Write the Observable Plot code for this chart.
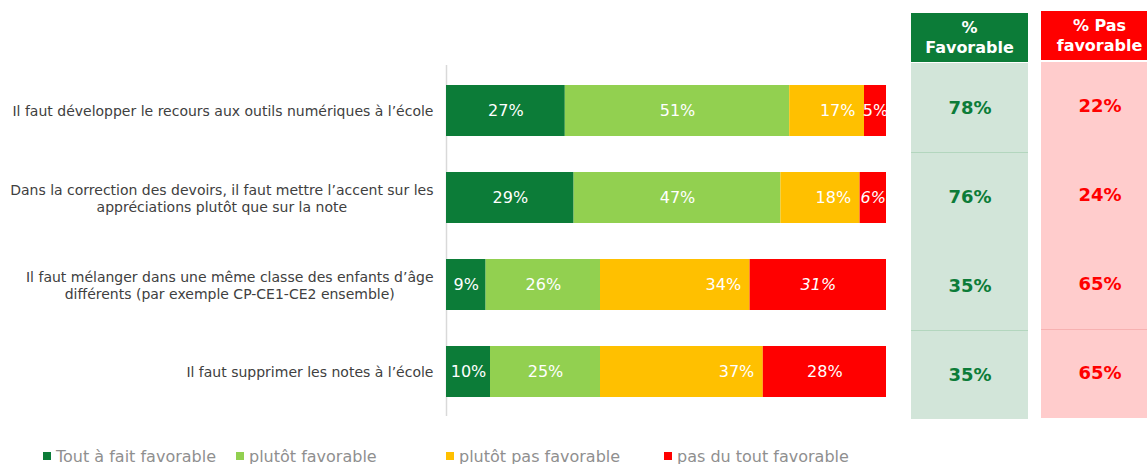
<!DOCTYPE html>
<html><head><meta charset="utf-8">
<script src="https://cdn.jsdelivr.net/npm/d3@7"></script>
<script src="https://cdn.jsdelivr.net/npm/@observablehq/plot@0.6"></script>
<style>
body{margin:0;background:#fff;font-family:"DejaVu Sans",Verdana,sans-serif;}
#wrap{position:relative;width:1147px;height:464px;overflow:hidden;background:#fff;}
#bars{position:absolute;left:0;top:0;width:900px;}
#table{position:absolute;left:900px;top:0;width:260px;}
#wrap svg{max-width:none !important;}
.hdr{position:absolute;width:117px;height:49px;color:#fff;font-weight:bold;font-size:16px;line-height:19.5px;text-align:center;display:flex;align-items:center;justify-content:center;}
.leg{position:absolute;top:447px;display:flex;align-items:center;font-size:16px;color:#8f8f8f;white-space:nowrap;height:18px;}
.sw{width:8px;height:8px;margin-right:5px;}
</style>
</head><body>
<div id="wrap">
  <div id="bars"></div>
  <div id="table"></div>
</div>
<script>
const questions = [
  "Il faut développer le recours aux outils numériques à l’école",
  "Dans la correction des devoirs, il faut mettre l’accent sur les\nappréciations plutôt que sur la note",
  "Il faut mélanger dans une même classe des enfants d’âge\ndifférents (par exemple CP-CE1-CE2 ensemble)",
  "Il faut supprimer les notes à l’école"
];
const categories = ["Tout à fait favorable", "plutôt favorable", "plutôt pas favorable", "pas du tout favorable"];
const toutAFait = [27, 29, 9, 10];
const plutot = [51, 47, 26, 25];
const plutotPas = [17, 18, 34, 37];
const pasDuTout = [5, 6, 31, 28];
const favorable = [78, 76, 35, 35];
const pasFavorable = [22, 24, 65, 65];
const columns = ["% Favorable", "% Pas favorable"];

const colors = ["#0c7c38", "#92d050", "#ffc000", "#ff0000"];
const series = [toutAFait, plutot, plutotPas, pasDuTout];
const rows = [];
questions.forEach((q, i) => categories.forEach((c, j) => rows.push({question: q, category: c, value: series[j][i]})));

const italicRed = new Set([questions[1], questions[2]]);
const font = "DejaVu Sans, Verdana, sans-serif";

const bars = Plot.plot({
  width: 900, height: 430,
  marginLeft: 446, marginRight: 14, marginTop: 65, marginBottom: 14,
  style: {fontFamily: font, background: "transparent", maxWidth: "none"},
  x: {domain: [0, 100], axis: null},
  y: {domain: questions, paddingInner: 0.415, paddingOuter: 0.22, axis: null},
  color: {domain: categories, range: colors},
  marks: [
    Plot.ruleX([0], {stroke: "#d9d9d9", strokeWidth: 1.5}),
    Plot.barX(rows, Plot.stackX({x: "value", y: "question", fill: "category"})),
    Plot.axisY({tickSize: 0, tickPadding: 13, fontSize: 14, fill: "#404040", lineHeight: 1.22, label: null, ariaLabel: "question-labels"}),
    Plot.text(rows, Plot.stackX({x: "value", y: "question", z: "category",
      text: d => (d.category === categories[2] || (d.category === categories[3] && italicRed.has(d.question))) ? null : d.value + "%",
      fill: "white", fontSize: 16})),
    Plot.text(rows, Plot.stackX({x: "value", y: "question", z: "category",
      text: d => (d.category === categories[3] && italicRed.has(d.question)) ? d.value + "%" : null,
      fill: "white", fontSize: 16, fontStyle: "italic"})),
    Plot.text(rows, Plot.stackX2({x: "value", y: "question", z: "category",
      text: d => d.category === categories[2] ? d.value + "%" : null,
      fill: "white", fontSize: 16, textAnchor: "end", dx: -9}))
  ]
});
document.getElementById("bars").appendChild(bars);

// multi-line labels: block right-aligned, lines centred within the block (as in the original)
bars.querySelectorAll("text").forEach(t => {
  const spans = t.querySelectorAll("tspan");
  if (spans.length > 1) {
    const w = Math.max(...Array.from(spans, s => s.getComputedTextLength()));
    t.setAttribute("text-anchor", "middle");
    const tr = t.getAttribute("transform") || "";
    t.setAttribute("transform", tr + ` translate(${-w / 2},0)`);
  }
});

const tableRows = questions.map((q, i) => ({question: q, fav: favorable[i], pas: pasFavorable[i]}));
const bandH = (419 - 62) / questions.length;
const table = Plot.plot({
  width: 260, height: 430,
  marginLeft: 11, marginRight: 2, marginTop: 62, marginBottom: 11,
  style: {fontFamily: font, background: "transparent", maxWidth: "none"},
  x: {domain: columns, paddingInner: 0.1, paddingOuter: 0, axis: null},
  y: {domain: questions, padding: 0, axis: null},
  marks: [
    Plot.cell(tableRows, {x: () => columns[0], y: "question", fill: "#d2e5d9", inset: 0}),
    Plot.cell(tableRows, {x: () => columns[1], y: "question", fill: "#ffcccc", inset: 0, dy: -1}),
    Plot.cell([tableRows[1], tableRows[3]], {x: () => columns[0], y: "question", fill: "#a8d1b4", insetBottom: bandH - 1}),
    Plot.cell([tableRows[3]], {x: () => columns[1], y: "question", fill: "#f5a8a8", insetBottom: bandH - 1, dy: -1}),
    Plot.text(tableRows, {x: () => columns[0], y: "question", text: d => d.fav + "%", fill: "#0c7c38", fontWeight: "bold", fontSize: 18}),
    Plot.text(tableRows, {x: () => columns[1], y: "question", text: d => d.pas + "%", fill: "#ff0000", fontWeight: "bold", fontSize: 18, dy: -2})
  ]
});
document.getElementById("table").appendChild(table);

const wrap = document.getElementById("wrap");
const headers = [
  {html: "%<br>Favorable", left: 911, top: 13, bg: "#0c7c38"},
  {html: "% Pas<br>favorable", left: 1041, top: 11, bg: "#ff0000"}
];
headers.forEach(h => {
  const d = document.createElement("div");
  d.className = "hdr";
  d.style.left = h.left + "px"; d.style.top = h.top + "px"; d.style.background = h.bg;
  d.innerHTML = h.html;
  wrap.appendChild(d);
});

const legendLeft = [43, 236, 446, 664];
categories.forEach((c, i) => {
  const d = document.createElement("div");
  d.className = "leg";
  d.style.left = legendLeft[i] + "px";
  const s = document.createElement("span");
  s.className = "sw"; s.style.background = colors[i];
  d.appendChild(s);
  d.appendChild(document.createTextNode(c));
  wrap.appendChild(d);
});
</script>
</body></html>
